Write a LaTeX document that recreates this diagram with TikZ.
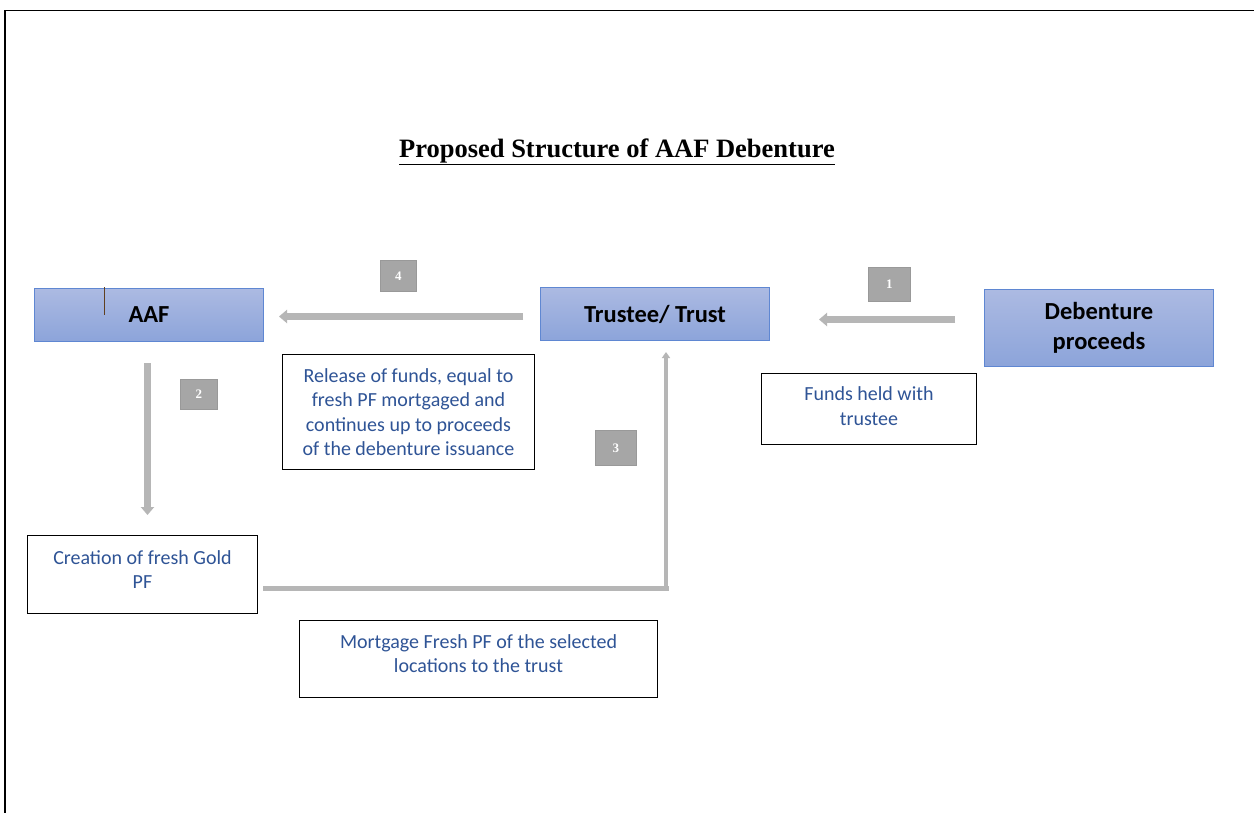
\documentclass[tikz,border=0pt]{standalone}
\usepackage{fontspec}
\setmainfont{Liberation Serif}
\newfontfamily\calfont{Carlito}
\usetikzlibrary{arrows.meta}
\definecolor{txtblue}{RGB}{47,84,150}
\definecolor{boxtop}{RGB}{172,186,226}
\definecolor{boxbot}{RGB}{140,164,218}
\definecolor{boxedge}{RGB}{95,135,210}
\definecolor{arrowgray}{RGB}{182,182,182}
\definecolor{numgray}{RGB}{166,166,166}
\begin{document}
\begin{tikzpicture}[x=1pt,y=-1pt,
  mainbox/.style={draw=boxedge, line width=1pt, top color=boxtop, bottom color=boxbot,
    font=\calfont\bfseries\fontsize{24.5}{30}\selectfont, text=black, align=center,
    inner sep=0pt, anchor=north west},
  textbox/.style={draw=black, line width=1pt, fill=white, text=txtblue,
    font=\calfont\fontsize{20}{24.5}\selectfont, align=center, inner sep=0pt, anchor=north west},
  numbox/.style={fill=numgray, draw=gray!80, line width=0.6pt, text=white,
    font=\bfseries\fontsize{13}{13}\selectfont, inner sep=0pt, anchor=north west},
  bigarrow/.style={draw=arrowgray, line width=7pt, -{Triangle[width=13pt,length=8pt]}},
  thinarrow/.style={draw=arrowgray, line width=4pt, -{Triangle[width=8pt,length=6pt]}}
]
\useasboundingbox (0,0) rectangle (1254,812);
\fill[white] (0,0) rectangle (1254,812);
% frame
\draw[line width=1.6pt, line cap=rect] (5,812) -- (5,10.5) -- (1254,10.5);

% title
\node (title) at (617,152) {\bfseries\fontsize{26.5}{30}\selectfont\underline{Proposed Structure of AAF Debenture}};

% main boxes
\node[mainbox, minimum width=229, minimum height=53] (aaf) at (34,288) {AAF};
\node[mainbox, minimum width=229, minimum height=53] (trust) at (540,287) {Trustee/ Trust};
\node[mainbox, minimum width=229, minimum height=77] (deb) at (984,289) {Debenture\\proceeds};
\draw[brown!50!black, line width=1pt] (104,287) -- (104,315);

% text boxes
\node[textbox, minimum width=252, minimum height=115] (release) at (282,354)
  {Release of funds, equal to\\fresh PF mortgaged and\\continues up to proceeds\\of the debenture issuance};
\node[textbox, minimum width=215, minimum height=71] (funds) at (761,373)
  {Funds held with\\trustee\\[-18.5pt]};
\node[textbox, minimum width=230, minimum height=78] (creation) at (27,535)
  {Creation of fresh Gold\\PF\\[-14.5pt]};
\node[textbox, minimum width=358, minimum height=77] (mortgage) at (299,620)
  {Mortgage Fresh PF of the selected\\locations to the trust\\[-13.5pt]};

% number boxes
\node[numbox, minimum width=36, minimum height=31] (n4) at (380,260) {4};
\node[numbox, minimum width=42, minimum height=34] (n1) at (868,267) {1};
\node[numbox, minimum width=37, minimum height=30] (n2) at (180,379) {2};
\node[numbox, minimum width=41, minimum height=35] (n3) at (595,430) {3};

% arrows
\draw[bigarrow, shorten <=17pt, shorten >=15pt] ([yshift=-2.5]trust.west) -- ([yshift=-2.5]trust.west -| aaf.east);
\draw[bigarrow, shorten <=29pt, shorten >=49pt] ([yshift=8.5]deb.west) -- ([yshift=8.5]deb.west -| trust.east);
\draw[bigarrow, shorten <=21pt, shorten >=20pt] ([xshift=-1.5]aaf.south) -- ([xshift=-1.5]aaf.south |- creation.north);
\coordinate (c3a) at (263,588);
\coordinate (c3b) at (669,588);
\coordinate (c3c) at (666,590);
\coordinate (c3d) at (666,352);
\draw[draw=arrowgray, line width=5pt] (c3a) -- (c3b);
\draw[thinarrow] (c3c) -- (c3d);
\end{tikzpicture}
\end{document}
